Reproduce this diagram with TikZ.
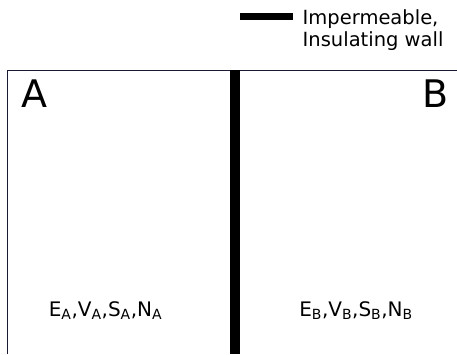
\documentclass[tikz,border=0pt]{standalone}
\usepackage{fontspec}
\setmainfont{DejaVu Sans}
\definecolor{edge}{HTML}{1A1A33}
\begin{document}
\begin{tikzpicture}[x=1pt,y=-1pt,
  boxline/.style={draw=edge,line width=1.3pt},
  wallfill/.style={fill=black},
  legendtext/.style={anchor=base west,inner sep=0pt,font=\fontsize{19.5}{22}\selectfont},
  sidename/.style={anchor=base,inner sep=0pt,font=\fontsize{38}{40}\selectfont},
  statevars/.style={anchor=base,inner sep=0pt,font=\fontsize{20}{24}\selectfont}]
  \useasboundingbox (0,0) rectangle (457,354);
  % container: top edge and left side
  \draw[boxline] (7.3,354) -- (7.3,70.5) -- (457,70.5);
  % impermeable, insulating partition
  \fill[wallfill] (230,70) rectangle (240,354);
  % legend
  \fill[wallfill] (240,13) rectangle (293,20);
  \node[legendtext] (leg1) at (302.5,24) {Impermeable,};
  \node[legendtext] (leg2) at (302.5,46.5) {Insulating wall};
  % subsystem names
  \node[sidename] (nameA) at (34,107) {A};
  \node[sidename] (nameB) at (436,107) {B};
  % state variables
  \node[statevars] (varsA) at (105.5,316.5) {E\textsubscript{A},V\textsubscript{A},S\textsubscript{A},N\textsubscript{A}};
  \node[statevars] (varsB) at (356,316.5) {E\textsubscript{B},V\textsubscript{B},S\textsubscript{B},N\textsubscript{B}};
\end{tikzpicture}
\end{document}
